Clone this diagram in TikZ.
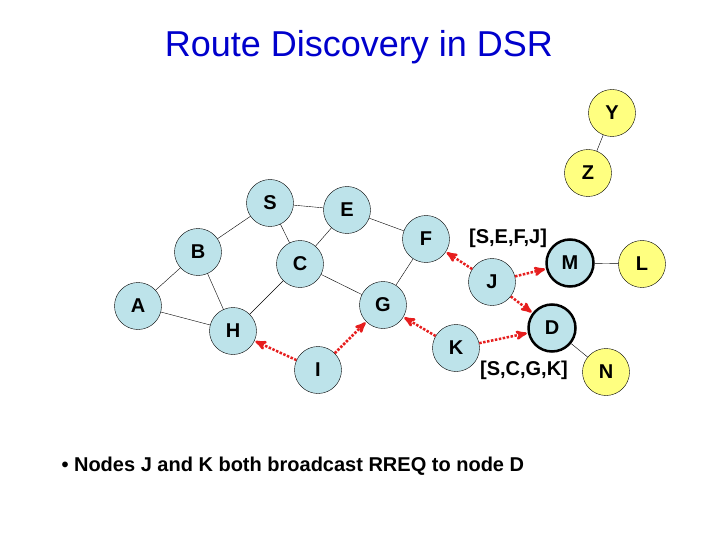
\documentclass[tikz,border=0pt]{standalone}
\usepackage{fontspec}
\setmainfont{Liberation Sans}
\usetikzlibrary{arrows}

\definecolor{nodeblue}{RGB}{189,227,234}
\definecolor{nodeyellow}{RGB}{255,255,128}
\definecolor{titleblue}{RGB}{0,0,204}
\definecolor{rreqred}{RGB}{230,30,30}

\begin{document}
\begin{tikzpicture}[x=1pt,y=-1pt,
    font=\fontsize{20}{24}\selectfont\bfseries,
    base node/.style={circle,draw,fill=nodeblue,minimum size=47pt,inner sep=0pt},
    far node/.style={circle,draw,fill=nodeyellow,minimum size=47pt,inner sep=0pt},
    dest node/.style={base node,line width=2.5pt},
    rreq/.style={->,>=stealth',draw=rreqred,line width=2.5pt,dash pattern=on 2.5pt off 1.5pt,shorten >=1pt}]

\useasboundingbox (0,0) rectangle (720,540);

\node[font=\fontsize{36}{40}\selectfont,text=titleblue] (title) at (359,47) {Route Discovery in DSR};

\node[base node]  (S) at (270,203) {S};
\node[base node]  (E) at (347,210) {E};
\node[base node]  (B) at (198,252) {B};
\node[base node]  (C) at (300,264) {C};
\node[base node]  (A) at (138,306) {A};
\node[base node]  (H) at (233,331) {H};
\node[base node]  (G) at (383,305) {G};
\node[base node]  (I) at (318,370) {I};
\node[base node]  (F) at (426,239) {F};
\node[base node]  (J) at (492,282) {J};
\node[base node]  (K) at (456,348) {K};
\node[dest node]  (M) at (570,263) {M};
\node[dest node]  (D) at (552,328) {D};
\node[far node]   (Y) at (612,113) {Y};
\node[far node]   (Z) at (588,173) {Z};
\node[far node]   (L) at (642,264) {L};
\node[far node]   (N) at (606,372) {N};

\node (routeJ) at (508,238) {[S,E,F,J]};
\node (routeK) at (524,370) {[S,C,G,K]};

\path[draw]
(S) edge (E)
(S) edge (B)
(S) edge (C)
(E) edge (C)
(E) edge (F)
(B) edge (A)
(B) edge (H)
(A) edge (H)
(C) edge (H)
(C) edge (G)
(F) edge (G)
(Y) edge (Z)
(M) edge (L)
(D) edge (N);

\path[rreq]
(I) edge (H)
(I) edge (G)
(K) edge (G)
(J) edge (F)
(J) edge (M)
(J) edge (D)
(K) edge (D);

\node[anchor=west] (note) at (58,466) {\textbullet\ Nodes J and K both broadcast RREQ to node D};
\end{tikzpicture}
\end{document}
